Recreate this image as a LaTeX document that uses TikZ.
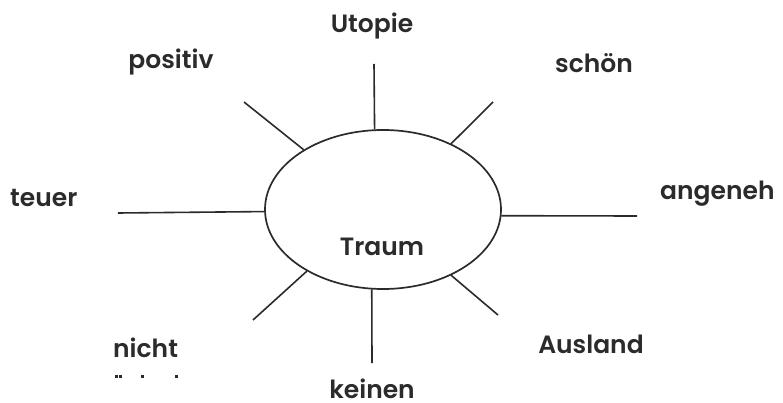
\documentclass[tikz,border=0pt]{standalone}
\usepackage{fontspec}
\setmainfont{Poppins SemiBold}
\usetikzlibrary{shapes.geometric}
\definecolor{ink}{HTML}{2B2B2B}
\tikzset{
  word/.style={anchor=base, inner sep=0pt, text=ink, font=\fontsize{25}{30}\selectfont},
  spoke/.style={draw=ink, line width=1.6pt},
  bubble/.style={ellipse, draw=ink, line width=1.7pt, minimum width=236pt, minimum height=159pt, inner sep=0pt},
  dotmark/.style={fill=ink, draw=none, minimum size=3pt, inner sep=0pt, rectangle}
}
\begin{document}
\begin{tikzpicture}[x=1pt,y=-1pt]
\useasboundingbox (0,0) rectangle (783,403);
\fill[white] (0,0) rectangle (783,403);
\node[bubble] (t) at (383,209.5) {};
\node[word] (traum) at (382,255) {Traum};
% words
\node[word] (utopie) at (372,33) {Utopie};
\node[word] (positiv) at (171,69) {positiv};
\node[word] (schoen) at (594,73) {schön};
\node[word, anchor=base west] (teuer) at (10,207) {teuer};
\node[word, anchor=base west] (angeneh) at (660,200) {angeneh};
\node[word, anchor=base west] (nicht) at (113,357) {nicht};
\node[word] (keinen) at (372,398) {keinen};
\node[word] (ausland) at (591,353) {Ausland};
% cut-off dots below "nicht"
\node[dotmark] (d1) at (116.5,376) {};
\node[dotmark] (d2) at (120.5,376) {};
\node[dotmark] (d3) at (142,376) {};
\node[dotmark] (d4) at (176,376) {};
% spoke ends
\coordinate (cu) at (374,64);
\coordinate (cp) at (244,102);
\coordinate (cs) at (493,102);
\coordinate (ct) at (118,213);
\coordinate (ca) at (637,216);
\coordinate (cn) at (253,320);
\coordinate (ck) at (372,363);
\coordinate (cl) at (498,315);
\draw[spoke] (cu) -- (t.96.5);
\draw[spoke] (cp) -- (t.143.7);
\draw[spoke] (cs) -- (t.44.8);
\draw[spoke] (ct) -- (t.181.7);
\draw[spoke] (ca) -- (t.-3.2);
\draw[spoke] (cn) -- (t.219.2);
\draw[spoke] (ck) -- (t.262);
\draw[spoke] (cl) -- (t.-44.4);
\end{tikzpicture}
\end{document}
